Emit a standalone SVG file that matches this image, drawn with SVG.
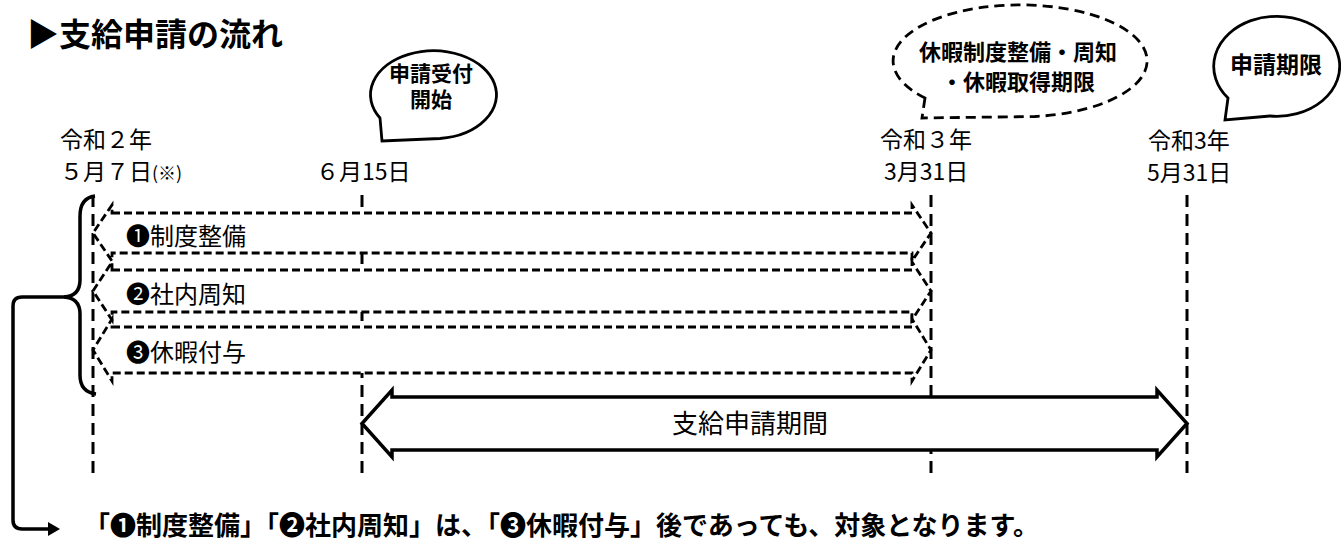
<svg xmlns="http://www.w3.org/2000/svg" width="1341" height="542" viewBox="0 0 1341 542">
<style>
text{font-family:"Noto Sans CJK JP","Noto Sans",sans-serif;fill:#000}
.t{font-size:23px}
.b{font-weight:700}
.vl{fill:none;stroke:#000;stroke-width:3;stroke-dasharray:12 7}
.da{fill:#fff;stroke:#000;stroke-width:2.8;stroke-dasharray:8 4}
.bub{fill:#fff;stroke:#000;stroke-width:2.8}
</style>
<rect width="1341" height="542" fill="#fff"/>
<text id="title" x="27" y="46" class="b" style="font-size:32px">▶支給申請の流れ</text>

<g id="dates">
<text x="60" y="148" class="t">令和２年</text>
<text x="60" y="180" class="t">５月７日<tspan style="font-size:18px">(※)</tspan></text>
<text x="316" y="180" class="t">６月15日</text>
<text x="880" y="148" class="t">令和３年</text>
<text x="884" y="180" class="t">3月31日</text>
<text x="1148" y="149" class="t">令和3年</text>
<text x="1147" y="181" class="t">5月31日</text>
</g>

<g id="timelines">
<line class="vl" x1="93" y1="195" x2="93" y2="477"/>
<line class="vl" x1="362" y1="195" x2="362" y2="477"/>
<line class="vl" x1="931" y1="195" x2="931" y2="477"/>
<line class="vl" x1="1187" y1="195" x2="1187" y2="477"/>
</g>

<g id="bubble-start">
<path class="bub" d="M380,118 L382,141 L440,138.5 A63 44 0 1 0 380,118 Z"/>
<text x="431" y="81" class="b" style="font-size:21px" text-anchor="middle">申請受付</text>
<text x="431" y="107" class="b" style="font-size:21px" text-anchor="middle">開始</text>
</g>

<g id="bubble-deadline1">
<path class="bub" style="stroke-dasharray:10 6" d="M925,98 L922,118 L1035,116.5 A127 56 0 1 0 925,98 Z"/>
<text x="1018" y="60" class="b" style="font-size:22px" text-anchor="middle">休暇制度整備・周知</text>
<text x="1018" y="90" class="b" style="font-size:22px" text-anchor="middle">・休暇取得期限</text>
</g>

<g id="bubble-deadline2">
<path class="bub" d="M1228,98 L1225,120 L1270,116 A63 50 0 1 0 1228,98 Z"/>
<text x="1276" y="73" class="b" style="font-size:23px" text-anchor="middle">申請期限</text>
</g>

<g id="step1">
<path class="da" d="M112,213 H912 V205 L931,233 L912,261 V253 H112 V261 L93,233 L112,205 Z"/>
<text x="126" y="245" style="font-size:24px">❶制度整備</text>
</g>
<g id="step2">
<path class="da" d="M112,270 H912 V262 L931,291 L912,320 V312 H112 V320 L93,291 L112,262 Z"/>
<text x="126" y="303" style="font-size:24px">❷社内周知</text>
</g>
<g id="step3">
<path class="da" d="M112,327 H912 V319 L931,350 L912,381 V373 H112 V381 L93,350 L112,319 Z"/>
<text x="126" y="361" style="font-size:24px">❸休暇付与</text>
</g>

<g id="period">
<path fill="#fff" stroke="#000" stroke-width="3.5" stroke-linejoin="miter" d="M392,397 H1157 V390 L1187,423.5 L1157,457 V450 H392 V457 L362,423.5 L392,390 Z"/>
<text x="750" y="433" style="font-size:26px" text-anchor="middle">支給申請期間</text>
</g>

<g id="connectors">
<path fill="none" stroke="#000" stroke-width="3.5" d="M95,196 Q80,198 80,216 V280 Q80,296 64,297 Q80,298 80,314 V375 Q80,392 96,394"/>
<path fill="none" stroke="#000" stroke-width="3.5" d="M65,297 H22 Q13,297 13,306 V520 Q13,529 22,529 H50"/>
<polygon points="48,522 60,529 48,536" fill="#000"/>
</g>

<text id="note" x="84" y="535" class="b" style="font-size:26px">「❶制度整備」「❷社内周知」は、「❸休暇付与」後であっても、対象となります。</text>
</svg>
